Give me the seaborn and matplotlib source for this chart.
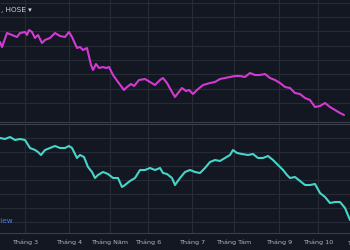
import matplotlib
matplotlib.use("Agg")
import matplotlib.pyplot as plt
import seaborn as sns
import pandas as pd
import numpy as np

# ---- data (session position, value) ----
top_x = [0, 2, 7, 12, 17, 20, 25, 27, 29, 32,
         35, 38, 42, 45, 50, 55, 60, 65, 69, 72,
         77, 80, 83, 87, 91, 93, 96, 99, 103, 106,
         109, 113, 118, 124, 127, 131, 134, 139, 145, 150,
         155, 160, 163, 167, 172, 175, 178, 182, 186, 189,
         193, 197, 203, 210, 215, 220, 225, 230, 235, 240,
         245, 250, 255, 260, 265, 270, 275, 280, 285, 290,
         295, 300, 305, 310, 315, 320, 325, 330, 335, 340,
         344]
top_y = [208, 203, 217, 215, 213, 217, 218, 215, 220, 218,
         212, 215, 207, 210, 212, 217, 214, 213, 218, 213,
         202, 203, 200, 202, 185, 180, 186, 182, 183, 182,
         183, 175, 168, 160, 163, 166, 164, 170, 171, 168,
         165, 170, 172, 167, 158, 153, 157, 162, 159, 160,
         156, 160, 165, 167, 168, 171, 172, 173, 174, 174,
         173, 177, 175, 175, 176, 172, 170, 167, 163, 162,
         157, 156, 152, 150, 143, 144, 147, 143, 140, 137,
         135]
bot_x = [0, 5, 10, 15, 20, 25, 30, 35, 38, 41,
         45, 50, 55, 60, 65, 69, 72, 77, 80, 84,
         88, 92, 95, 98, 103, 108, 113, 118, 122, 125,
         130, 135, 140, 145, 150, 155, 160, 163, 167, 172,
         175, 180, 185, 190, 195, 200, 205, 210, 215, 220,
         225, 230, 233, 237, 242, 248, 253, 258, 263, 268,
         273, 278, 283, 287, 290, 295, 300, 305, 310, 315,
         320, 325, 330, 335, 340, 345, 350]
bot_y = [112, 111, 113, 110, 111, 110, 102, 100, 98, 95,
         100, 102, 104, 102, 102, 104, 102, 92, 95, 93,
         83, 78, 72, 75, 78, 76, 72, 72, 63, 65,
         69, 72, 80, 80, 82, 80, 82, 77, 76, 72,
         65, 72, 78, 80, 78, 77, 82, 88, 90, 89,
         92, 95, 100, 97, 96, 95, 96, 92, 92, 94,
         90, 85, 80, 75, 72, 73, 69, 65, 65, 66,
         57, 53, 47, 48, 48, 42, 30]
month_pos = [25, 69, 110, 148, 192, 234, 279, 318]
month_labels = ["Tháng 3", "Tháng 4", "Tháng Năm", "Tháng 6", "Tháng 7", "Tháng Tám",
                "Tháng 9", "Tháng 10"]
last_month_pos = 362
last_month_label = "Tháng 11"

top_df = pd.DataFrame({"x": top_x, "y": top_y})
bot_df = pd.DataFrame({"x": bot_x, "y": bot_y})

BG = "#131722"
GRID = "#272b36"
sns.set_theme(style="dark", rc={"axes.facecolor": BG, "figure.facecolor": BG})
plt.rcParams['font.family'] = ['DejaVu Sans']

fig = plt.figure(figsize=(3.5, 2.5), dpi=100)
W, H = 350, 250
ax1 = fig.add_axes([0, 1 - 122 / H, 1, 122 / H])
ax2 = fig.add_axes([0, 1 - 233 / H, 1, (233 - 124) / H])

sns.lineplot(data=top_df, x="x", y="y", ax=ax1, color="#d23ad2", linewidth=1.5)
sns.lineplot(data=bot_df, x="x", y="y", ax=ax2, color="#45d6c8", linewidth=1.5)

for ax in (ax1, ax2):
    ax.set_facecolor(BG)
    ax.set_xlim(0, 350)
    ax.set_xlabel("")
    ax.set_ylabel("")
    ax.set_xticks(month_pos)
    ax.grid(True, color=GRID, linewidth=0.8)
    ax.tick_params(length=0)
    for s in ax.spines.values():
        s.set_visible(False)

ax1.set_ylim(128, 250)
ax1.set_yticks(np.arange(147, 250, 14.3))
ax1.set_yticklabels([])
ax1.set_xticklabels([])
ax2.set_ylim(17, 126)
ax2.set_yticks(np.arange(28, 126, 14))
ax2.set_yticklabels([])
ax2.set_xticklabels(month_labels, color="#b2b5be", fontsize=4.6)
ax2.tick_params(axis="x", pad=5)
ax2.spines["bottom"].set_visible(True)
ax2.spines["bottom"].set_color("#3a3e4a")
ax2.spines["bottom"].set_linewidth(0.8)

# partially visible next month label at the right edge
ax2.text(last_month_pos, -7 / 109, last_month_label, transform=ax2.get_xaxis_transform(),
         color="#b2b5be", fontsize=4.6, ha="center", va="top", clip_on=False)

# pane separator
fig.add_artist(plt.Line2D([0, 1], [1 - 121.5 / H, 1 - 121.5 / H], color="#3a3e4a", linewidth=0.8))
fig.add_artist(plt.Line2D([0, 1], [1 - 124 / H, 1 - 124 / H], color="#3a3e4a", linewidth=0.8))

fig.text(1 / W, 1 - 10 / H, ", HOSE \u25be", color="#d1d4dc", fontsize=5.2, va="center", ha="left")
fig.text(13 / W, 1 - 221 / H, "TradingView", color="#4a80d8", fontsize=5.2, va="center", ha="right")

fig.savefig("out.png", dpi=100, facecolor=BG)
